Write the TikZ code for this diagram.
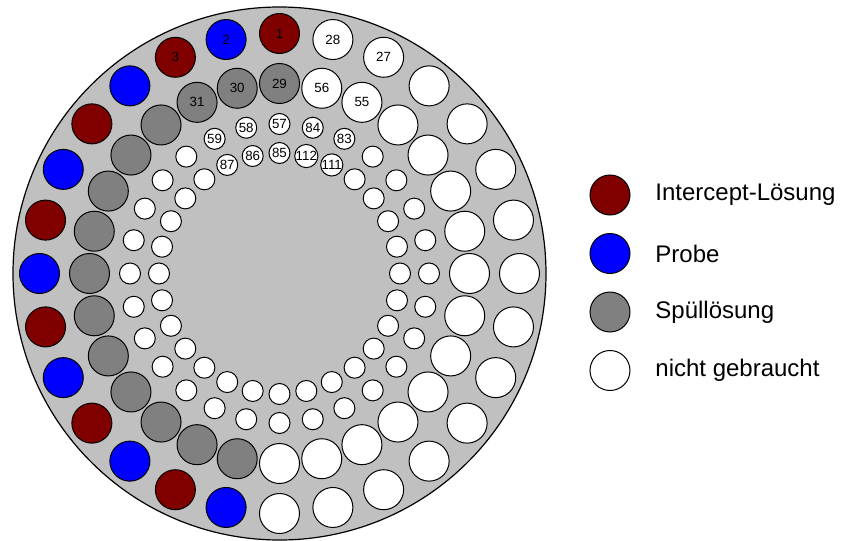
\documentclass[tikz,border=0pt]{standalone}
\usepackage{fontspec}
\setmainfont{Liberation Sans}
\usetikzlibrary{positioning}

\definecolor{intercept}{HTML}{800000}
\definecolor{probe}{HTML}{0000FF}
\definecolor{rinse}{HTML}{808080}
\definecolor{trayfill}{HTML}{C0C0C0}

\begin{document}
\begin{tikzpicture}[
        x=0.75pt, y=0.75pt,
        tray/.style={circle, draw=black, line width=0.9pt, fill=trayfill, minimum size=399.75pt, inner sep=0pt},
        bigvial/.style={circle, draw=black, line width=0.75pt, minimum size=30pt, inner sep=0pt, font=\fontsize{10}{10}\selectfont},
        smallvial/.style={circle, draw=black, line width=0.75pt, fill=white, minimum size=15.75pt, inner sep=0pt, font=\fontsize{10}{10}\selectfont},
        legendtext/.style={inner sep=0pt, anchor=west, font=\fontsize{18}{18}\selectfont}
    ]
    \useasboundingbox (-279.5,-266.5) rectangle (567.5,273.5);

    % ==========================================
    % Tray
    % ==========================================
    \node[tray] (tray) at (0,0) {};

    % ==========================================
    % Positions 1-112 (four rings of 28)
    % ==========================================
    \foreach \k in {1,...,28} {
        \pgfmathsetmacro\ang{90+(\k-1)*360/28}
        \pgfmathtruncatemacro\nA{\k}
        \pgfmathtruncatemacro\nB{\k+28}
        \pgfmathtruncatemacro\nC{\k+56}
        \pgfmathtruncatemacro\nD{\k+84}
        \ifnum\k<15
            \ifodd\k \def\colA{intercept}\else \def\colA{probe}\fi
            \def\colB{rinse}
        \else
            \def\colA{white}\def\colB{white}
        \fi
        % only the first three and the last two carry a number
        \ifnum\k<4 \def\shown{1}\else \ifnum\k>26 \def\shown{1}\else \def\shown{0}\fi\fi
        \node[bigvial, fill=\colA] (p\nA) at (\ang:240) {\ifnum\shown=1 \nA\fi};
        \node[bigvial, fill=\colB] (p\nB) at (\ang:190) {\ifnum\shown=1 \nB\fi};
        \node[smallvial] (p\nC) at (\ang:149.5) {\ifnum\shown=1 \nC\fi};
        \node[smallvial] (p\nD) at (\ang:120.5) {\ifnum\shown=1 \nD\fi};
    }

    % ==========================================
    % Legend
    % ==========================================
    \node[bigvial, fill=intercept] (key1) at (330.5, 78.5) {};
    \node[bigvial, fill=probe] (key2) at (330.5, 20) {};
    \node[bigvial, fill=rinse] (key3) at (330.5, -38.5) {};
    \node[bigvial, fill=white] (key4) at (330.5, -97) {};

    \node[legendtext, right=18.5pt of key1] (lab1) {Intercept-Lösung};
    \node[legendtext, right=18.5pt of key2] (lab2) {Probe};
    \node[legendtext, right=18.5pt of key3] (lab3) {Spüllösung};
    \node[legendtext, right=18.5pt of key4] (lab4) {nicht gebraucht};

\end{tikzpicture}
\end{document}
